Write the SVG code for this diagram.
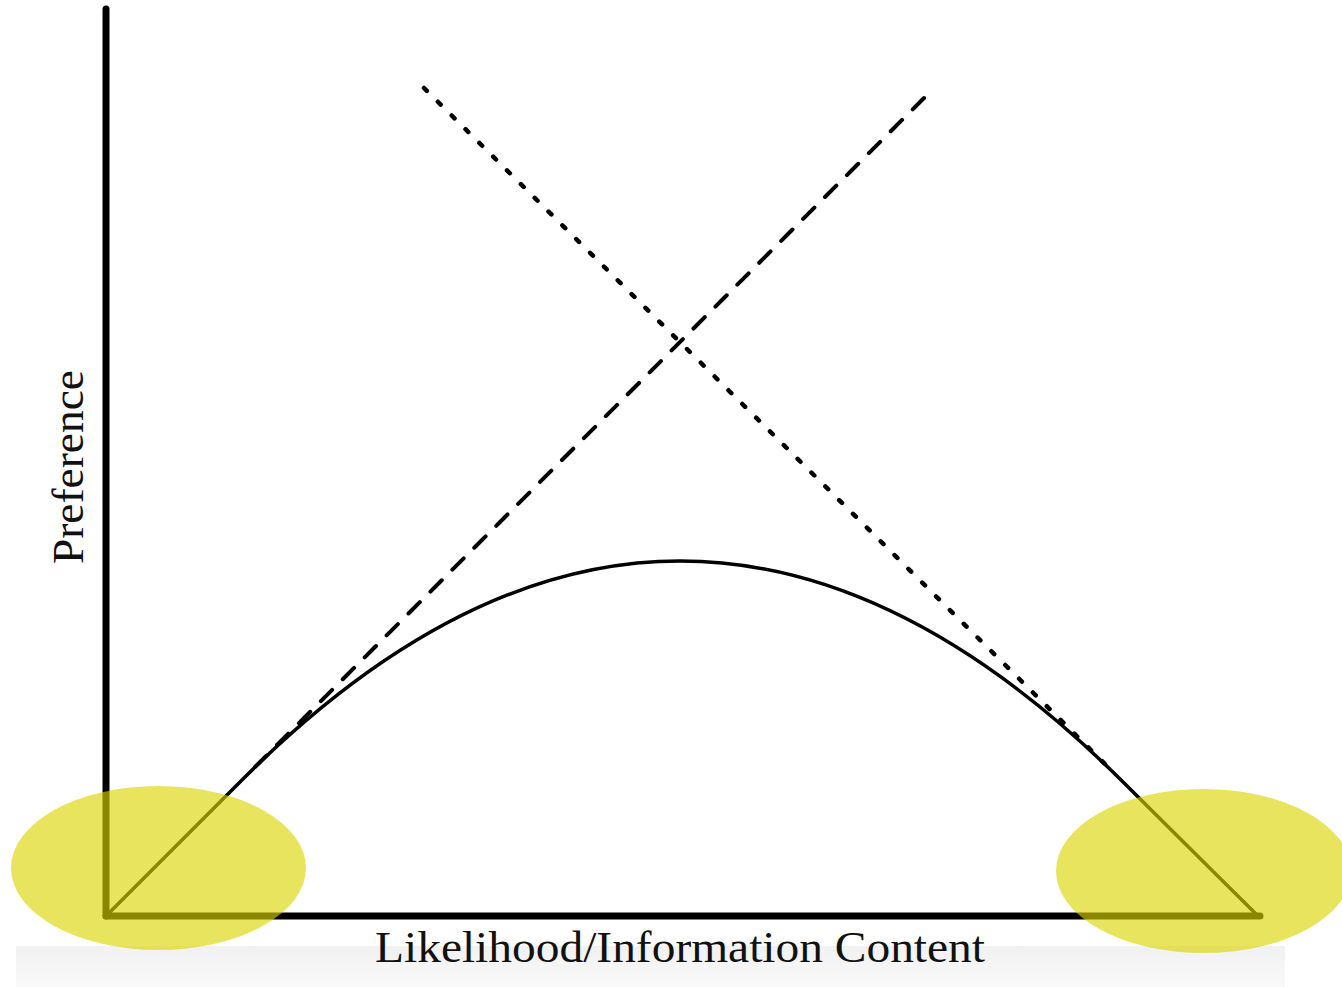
<svg xmlns="http://www.w3.org/2000/svg" width="1342" height="987" viewBox="0 0 1342 987">
  <defs>
    <linearGradient id="band" x1="0" y1="0" x2="0" y2="1">
      <stop offset="0" stop-color="#f1f1f1"/>
      <stop offset="1" stop-color="#f9f9f9"/>
    </linearGradient>
  </defs>
  <style>
    .axis { stroke:#000; stroke-width:7; stroke-linecap:round; fill:none; }
    .curve { stroke:#000; stroke-width:3.5; fill:none; stroke-linejoin:round; }
    .dashed { stroke:#000; stroke-width:4; fill:none; stroke-dasharray:16 15; stroke-linecap:round; }
    .dotted { stroke:#000; stroke-width:4.5; fill:none; stroke-dasharray:4 15.5; stroke-linecap:round; }
    .label { font-family:"Liberation Serif", "Times New Roman", serif; font-size:44px; fill:#111; }
    .hl { fill:rgb(220,212,0); fill-opacity:0.63; }
  </style>
  <rect width="1342" height="987" fill="#fff"/>
  <rect id="band-bg" x="16" y="946" width="1269" height="41" fill="url(#band)"/>
  <g id="axes">
    <line class="axis" x1="106" y1="9" x2="106" y2="916"/>
    <line class="axis" x1="106" y1="916" x2="1260" y2="916"/>
  </g>
  <g id="labels">
    <text class="label" x="375" y="962" textLength="610" lengthAdjust="spacingAndGlyphs">Likelihood/Information Content</text>
    <text class="label" transform="translate(83,564) rotate(-90)" x="0" y="0" textLength="194" lengthAdjust="spacingAndGlyphs">Preference</text>
  </g>
  <g id="connectors">
    <line id="dashed-line" class="dashed" x1="924" y1="98" x2="250" y2="772"/>
    <line id="dotted-line" class="dotted" x1="424" y1="88" x2="1110" y2="769"/>
    <path id="curve" class="curve" d="M106,916 L242,780 Q461,561 680,561 Q900,561 1120,779 L1258,916"/>
  </g>
  <g id="highlight-left">
    <ellipse class="hl" cx="158.5" cy="868" rx="147.5" ry="82"/>
  </g>
  <g id="highlight-right">
    <ellipse class="hl" cx="1203.5" cy="871" rx="147.5" ry="82"/>
  </g>
</svg>
